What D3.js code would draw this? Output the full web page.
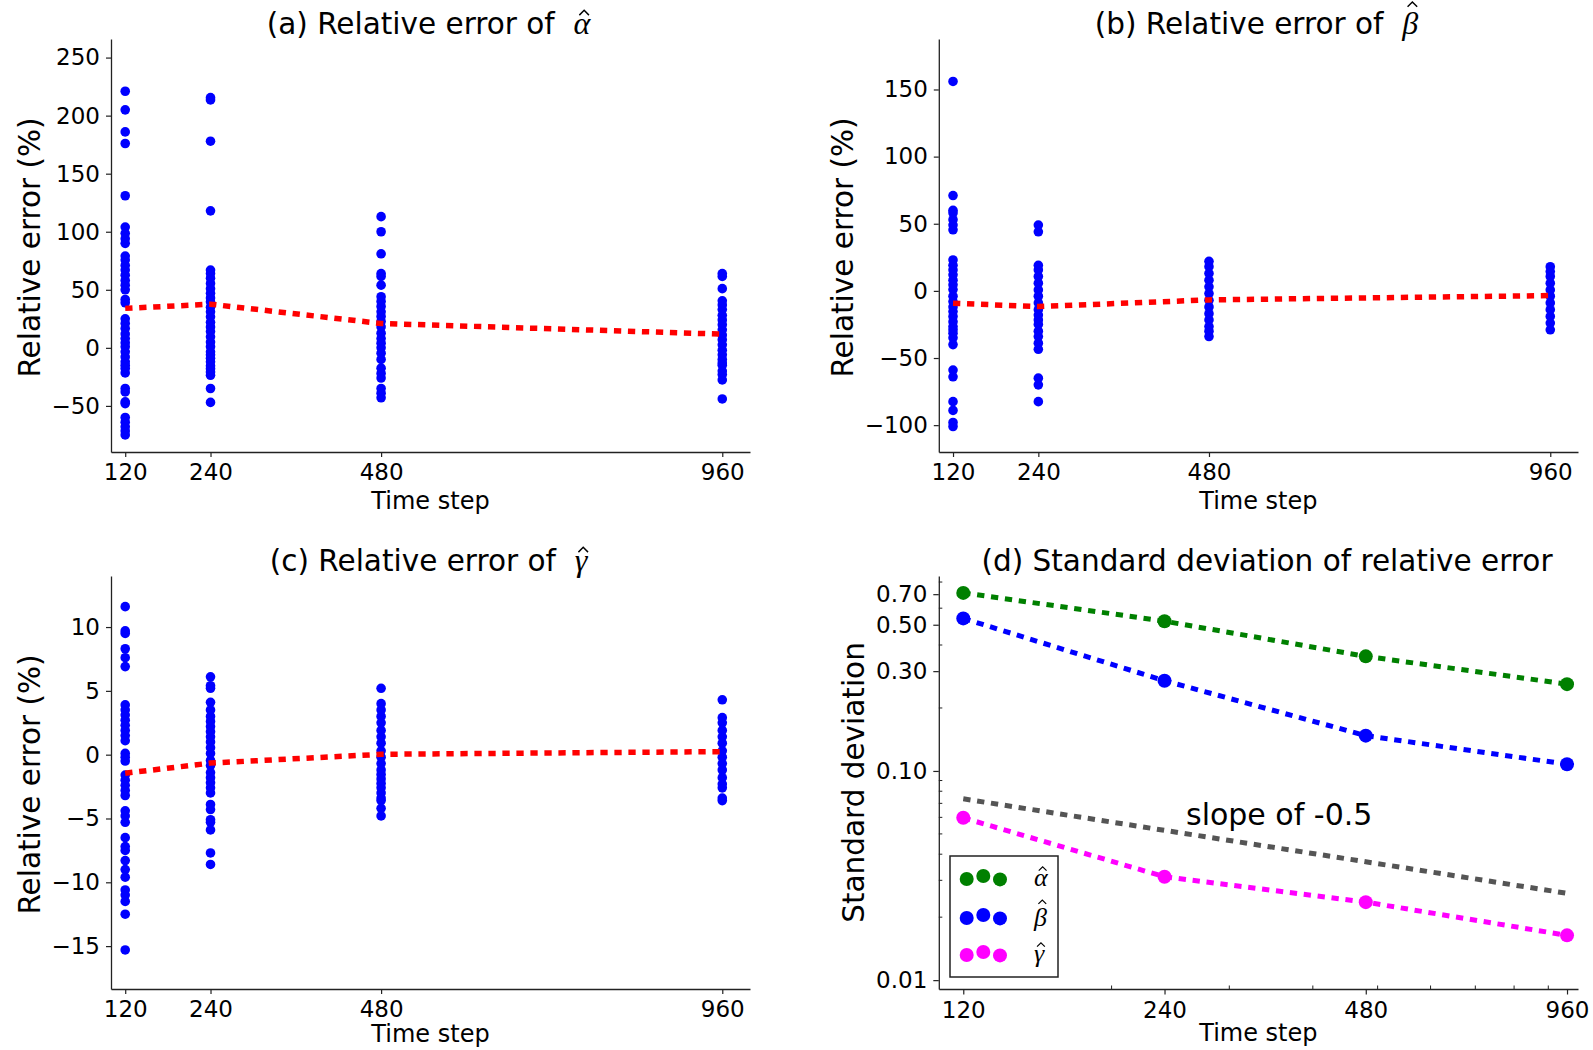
<!DOCTYPE html>
<html><head><meta charset="utf-8">
<script src="https://cdn.jsdelivr.net/npm/d3@7"></script>
<style>body{margin:0;background:#fff} svg{display:block}</style>
</head><body>
<svg id="chart" width="1593" height="1050"></svg>
<script>
// ---------------- data ----------------
const timeSteps = [120, 240, 480, 960];
const xTickLabels = ["120", "240", "480", "960"];

const alphaErrors = [
  [221,205,186,176,131,104,98.6,94,90,79,75.6,71,67,62.6,58,54,50,41.7,38.8,25,21,16.7,12,8,4.3,1,-3.4,-7.8,-12,-15,-17.8,-21.6,-35,-38,-46.5,-48,-60,-64,-68,-71.6,-75],
  [215.5,213.5,178,118,67,64,60,55.5,51,47,43,39.6,35,31,26.7,22,18,14,9.5,5,1,-3.4,-6,-9,-12,-15.5,-18,-20.7,-23.6,-35,-47],
  [113,100,81,64,61.5,54,44,40,35.6,31,27,22.7,18,12.6,8,4,0,-4.6,-10,-17.5,-22,-26,-35,-39,-43],
  [64,61.5,51,40.5,37,33,28,24,20,15.5,11,7,2.6,-2,-6,-10,-13,-15,-20,-23,-27.6,-44]
];
const alphaMean = [34, 37.6, 21, 11.8];

const betaErrors = [
  [156,71,60,58,53,49,45.5,23,19,15.6,12,8,4.5,1,-4,-8,-12,-15.4,-19,-23,-26.6,-29,-31.6,-35,-40,-59,-64,-82.5,-89,-98,-101],
  [49,44,19,15.6,10.7,5.7,0.7,-4,-9,-14,-18,-21.6,-25,-30,-34,-39,-43.5,-65,-70,-82.5],
  [22,18,13,8,3,-2,-7,-12,-17,-21.6,-26.6,-30,-34],
  [18,14.4,10.7,5.7,0.7,-4,-9,-14,-19,-24,-29]
];
const betaMean = [-9.2, -11.7, -6.7, -3.5];

const gammaErrors = [
  [11.6,9.7,9.5,8.3,7.6,6.9,3.9,3.5,3.1,2.7,2.3,1.9,1.5,1.1,0.1,-0.2,-0.5,-1.6,-2,-2.4,-2.8,-3.2,-4.4,-4.8,-5.3,-6.5,-7.2,-7.5,-8.3,-9,-9.6,-10.6,-11,-11.5,-12.5,-15.3],
  [6.1,5.4,5.2,4.1,3.5,3,2.6,2.2,1.8,1.4,1,0.55,0.1,-0.45,-0.85,-1.4,-1.8,-2.2,-2.6,-3,-3.9,-4.3,-5.1,-5.3,-5.9,-7.7,-8.6],
  [5.2,4,3.5,3,2.5,1.9,1.4,0.9,0.3,-0.2,-0.7,-1.2,-1.55,-1.9,-2.25,-2.6,-3,-3.4,-3.6,-4.2,-4.8],
  [4.3,2.9,2.5,1.9,1.4,0.9,0.3,-0.2,-0.7,-1.2,-1.8,-2.3,-2.6,-3.4,-3.6]
];
const gammaMean = [-1.45, -0.66, 0.03, 0.24];

const stdAlpha = [0.710, 0.520, 0.353, 0.260];
const stdBeta  = [0.536, 0.270, 0.1475, 0.1077];
const stdGamma = [0.0597, 0.0312, 0.0236, 0.01637];
const slopeRef = [0.0736, 0.052, 0.0368, 0.026];

const yTicksA = [-50, 0, 50, 100, 150, 200, 250];
const yTicksB = [-100, -50, 0, 50, 100, 150];
const yTicksC = [-15, -10, -5, 0, 5, 10];
const yTicksD = [0.01, 0.10, 0.30, 0.50, 0.70];
const yTickLabelsD = ["0.01", "0.10", "0.30", "0.50", "0.70"];
const yMinorD = [0.02,0.03,0.04,0.05,0.06,0.07,0.08,0.09,0.2,0.4,0.6,0.8];
const xMinorD = [200,300,400,500,600,700,800,900];

const legendSymbols = ["α", "β", "γ"];
const stdColors = ["#008000", "#0000ff", "#ff00ff"];

// ---------------- drawing ----------------
const svg = d3.select('#chart');
const FONT = "'DejaVu Sans', sans-serif";
const MATH = "'Liberation Serif', 'DejaVu Serif', serif";
const AX = '#222';
const DASH = '7.3,6.7';
const fmtMinus = d => d < 0 ? '\u2212' + Math.abs(d) : String(d);

function mathText(g, x, y, plain, sym, size, symSize, anchor) {
  const t = g.append('text').attr('x', x).attr('y', y).attr('text-anchor', anchor)
    .style('font-family', FONT).style('font-size', size + 'px').attr('fill', '#000');
  if (plain) t.append('tspan').text(plain);
  t.append('tspan').style('font-family', MATH).style('font-style', 'italic')
    .style('font-size', symSize + 'px').text(sym);
  const idx = plain.length;
  const node = t.node();
  const s = node.getStartPositionOfChar(idx), e = node.getEndPositionOfChar(idx);
  const cx = (s.x + e.x) / 2 + symSize * 0.07;
  const k = sym === 'β' ? 1.0 : 0.74;
  const top = y - k * symSize;
  const w = symSize * 0.3, h = symSize * 0.15;
  g.append('path').attr('d', `M${cx - w / 2},${top + h}L${cx},${top}L${cx + w / 2},${top + h}`)
    .attr('fill', 'none').attr('stroke', '#000').attr('stroke-width', Math.max(1, symSize * 0.045));
}

function styleAxis(sel, fs) {
  sel.selectAll('path.domain').attr('stroke', AX).attr('stroke-width', 1.3);
  sel.selectAll('.tick line').attr('stroke', AX).attr('stroke-width', 1.2);
  sel.selectAll('.tick text').attr('fill', '#000').style('font-family', FONT).style('font-size', fs + 'px');
}

function scatterPanel(o) {
  const g = svg.append('g');
  const x = d3.scaleLinear().domain(o.xDomain).range([o.left, o.right]);
  const y = d3.scaleLinear().domain(o.yDomain).range([o.bottom, o.top]);

  const ya = d3.axisLeft(y).tickValues(o.yTicks).tickSize(5).tickSizeOuter(0).tickPadding(6).tickFormat(fmtMinus);
  styleAxis(g.append('g').attr('transform', `translate(${o.left},0)`).call(ya), 23);
  const xa = d3.axisBottom(x).tickValues(timeSteps).tickSize(5).tickSizeOuter(0).tickPadding(7)
    .tickFormat((d, i) => xTickLabels[i]);
  styleAxis(g.append('g').attr('transform', `translate(0,${o.bottom})`).call(xa), 23);

  // points
  o.errors.forEach((arr, i) => {
    g.append('g').selectAll('circle').data(arr).join('circle')
      .attr('cx', x(timeSteps[i])).attr('cy', d => y(d)).attr('r', 4.8).attr('fill', '#0000ff');
  });
  // mean line
  const line = d3.line().x((d, i) => x(timeSteps[i])).y(d => y(d));
  g.append('path').datum(o.mean).attr('d', line).attr('fill', 'none').attr('stroke', '#ff0000')
    .attr('stroke-width', 5.5).attr('stroke-dasharray', DASH);

  // title
  mathText(g, (o.left + o.right) / 2 - 2, o.top - 5, o.title + '\u00a0\u00a0', o.sym, 29.5, 32, 'middle');
  // labels
  g.append('text').attr('x', (o.left + o.right) / 2).attr('y', Math.min(o.bottom + 57, 1042)).attr('text-anchor', 'middle')
    .style('font-family', FONT).style('font-size', '24px').text('Time step');
  g.append('text').attr('transform', `translate(${o.ylabelX},${(o.top + o.bottom) / 2 + 2}) rotate(-90)`)
    .attr('text-anchor', 'middle').style('font-family', FONT).style('font-size', '29.5px').text('Relative error (%)');
}

scatterPanel({left: 111, right: 750, top: 39, bottom: 452, xDomain: [100, 999], yDomain: [-89.7, 266],
  yTicks: yTicksA, errors: alphaErrors, mean: alphaMean, title: '(a) Relative error of', sym: 'α', ylabelX: 40});
scatterPanel({left: 938.8, right: 1578, top: 39, bottom: 452, xDomain: [100, 999], yDomain: [-120, 187.6],
  yTicks: yTicksB, errors: betaErrors, mean: betaMean, title: '(b) Relative error of', sym: 'β', ylabelX: 853});
scatterPanel({left: 111, right: 750, top: 576, bottom: 989, xDomain: [100, 999], yDomain: [-18.36, 14],
  yTicks: yTicksC, errors: gammaErrors, mean: gammaMean, title: '(c) Relative error of', sym: 'γ', ylabelX: 40});

// ---------------- panel d ----------------
(function () {
  const L = 938.8, R = 1578, T = 576, B = 989;
  const g = svg.append('g');
  const x = d3.scaleLog().domain([110.3, 997]).range([L, R]);
  const y = d3.scaleLog().domain([0.00907, 0.855]).range([B, T]);

  const ya = d3.axisLeft(y).tickValues(yTicksD).tickSize(5.5).tickSizeOuter(0).tickPadding(6)
    .tickFormat((d, i) => yTickLabelsD[i]);
  styleAxis(g.append('g').attr('transform', `translate(${L},0)`).call(ya), 23);
  const xa = d3.axisBottom(x).tickValues(timeSteps).tickSize(5.5).tickSizeOuter(0).tickPadding(7)
    .tickFormat((d, i) => xTickLabels[i]);
  styleAxis(g.append('g').attr('transform', `translate(0,${B})`).call(xa), 23);
  // minor ticks (inside)
  g.append('g').selectAll('line').data(yMinorD).join('line')
    .attr('x1', L).attr('x2', L + 3.5).attr('y1', d => y(d)).attr('y2', d => y(d)).attr('stroke', AX).attr('stroke-width', 1);
  g.append('g').selectAll('line').data(xMinorD).join('line')
    .attr('y1', B).attr('y2', B - 3.5).attr('x1', d => x(d)).attr('x2', d => x(d)).attr('stroke', AX).attr('stroke-width', 1);

  const line = d3.line().x((d, i) => x(timeSteps[i])).y(d => y(d));
  // slope reference
  g.append('path').datum(slopeRef).attr('d', line).attr('fill', 'none').attr('stroke', '#555')
    .attr('stroke-width', 5).attr('stroke-dasharray', DASH);
  [stdAlpha, stdBeta, stdGamma].forEach((s, k) => {
    g.append('path').datum(s).attr('d', line).attr('fill', 'none').attr('stroke', stdColors[k])
      .attr('stroke-width', 5).attr('stroke-dasharray', DASH);
    g.append('g').selectAll('circle').data(s).join('circle')
      .attr('cx', (d, i) => x(timeSteps[i])).attr('cy', d => y(d)).attr('r', 7).attr('fill', stdColors[k]);
  });

  g.append('text').attr('x', 1186).attr('y', 825).style('font-family', FONT).style('font-size', '30px').text('slope of -0.5');

  // title & labels
  g.append('text').attr('x', 1267).attr('y', T - 5).attr('text-anchor', 'middle')
    .style('font-family', FONT).style('font-size', '29.5px').text('(d) Standard deviation of relative error');
  g.append('text').attr('x', (L + R) / 2).attr('y', B + 52).attr('text-anchor', 'middle')
    .style('font-family', FONT).style('font-size', '24px').text('Time step');
  g.append('text').attr('transform', `translate(864,${(T + B) / 2}) rotate(-90)`)
    .attr('text-anchor', 'middle').style('font-family', FONT).style('font-size', '29.5px').text('Standard deviation');

  // legend
  const lg = g.append('g');
  lg.append('rect').attr('x', 950).attr('y', 856).attr('width', 108).attr('height', 121)
    .attr('fill', '#fff').attr('stroke', '#222').attr('stroke-width', 1.5);
  const rowY = [879, 918, 955];
  const baseY = [886, 926, 962];
  const dotX = [966.7, 983.3, 1000], dotDY = [0, -3, 0.4];
  legendSymbols.forEach((sym, k) => {
    dotX.forEach((dx, j) => lg.append('circle').attr('cx', dx).attr('cy', rowY[k] + dotDY[j]).attr('r', 7).attr('fill', stdColors[k]));
    mathText(lg, 1034, baseY[k], '', sym, 26, 26, 'start');
  });
})();
</script>
</body></html>
